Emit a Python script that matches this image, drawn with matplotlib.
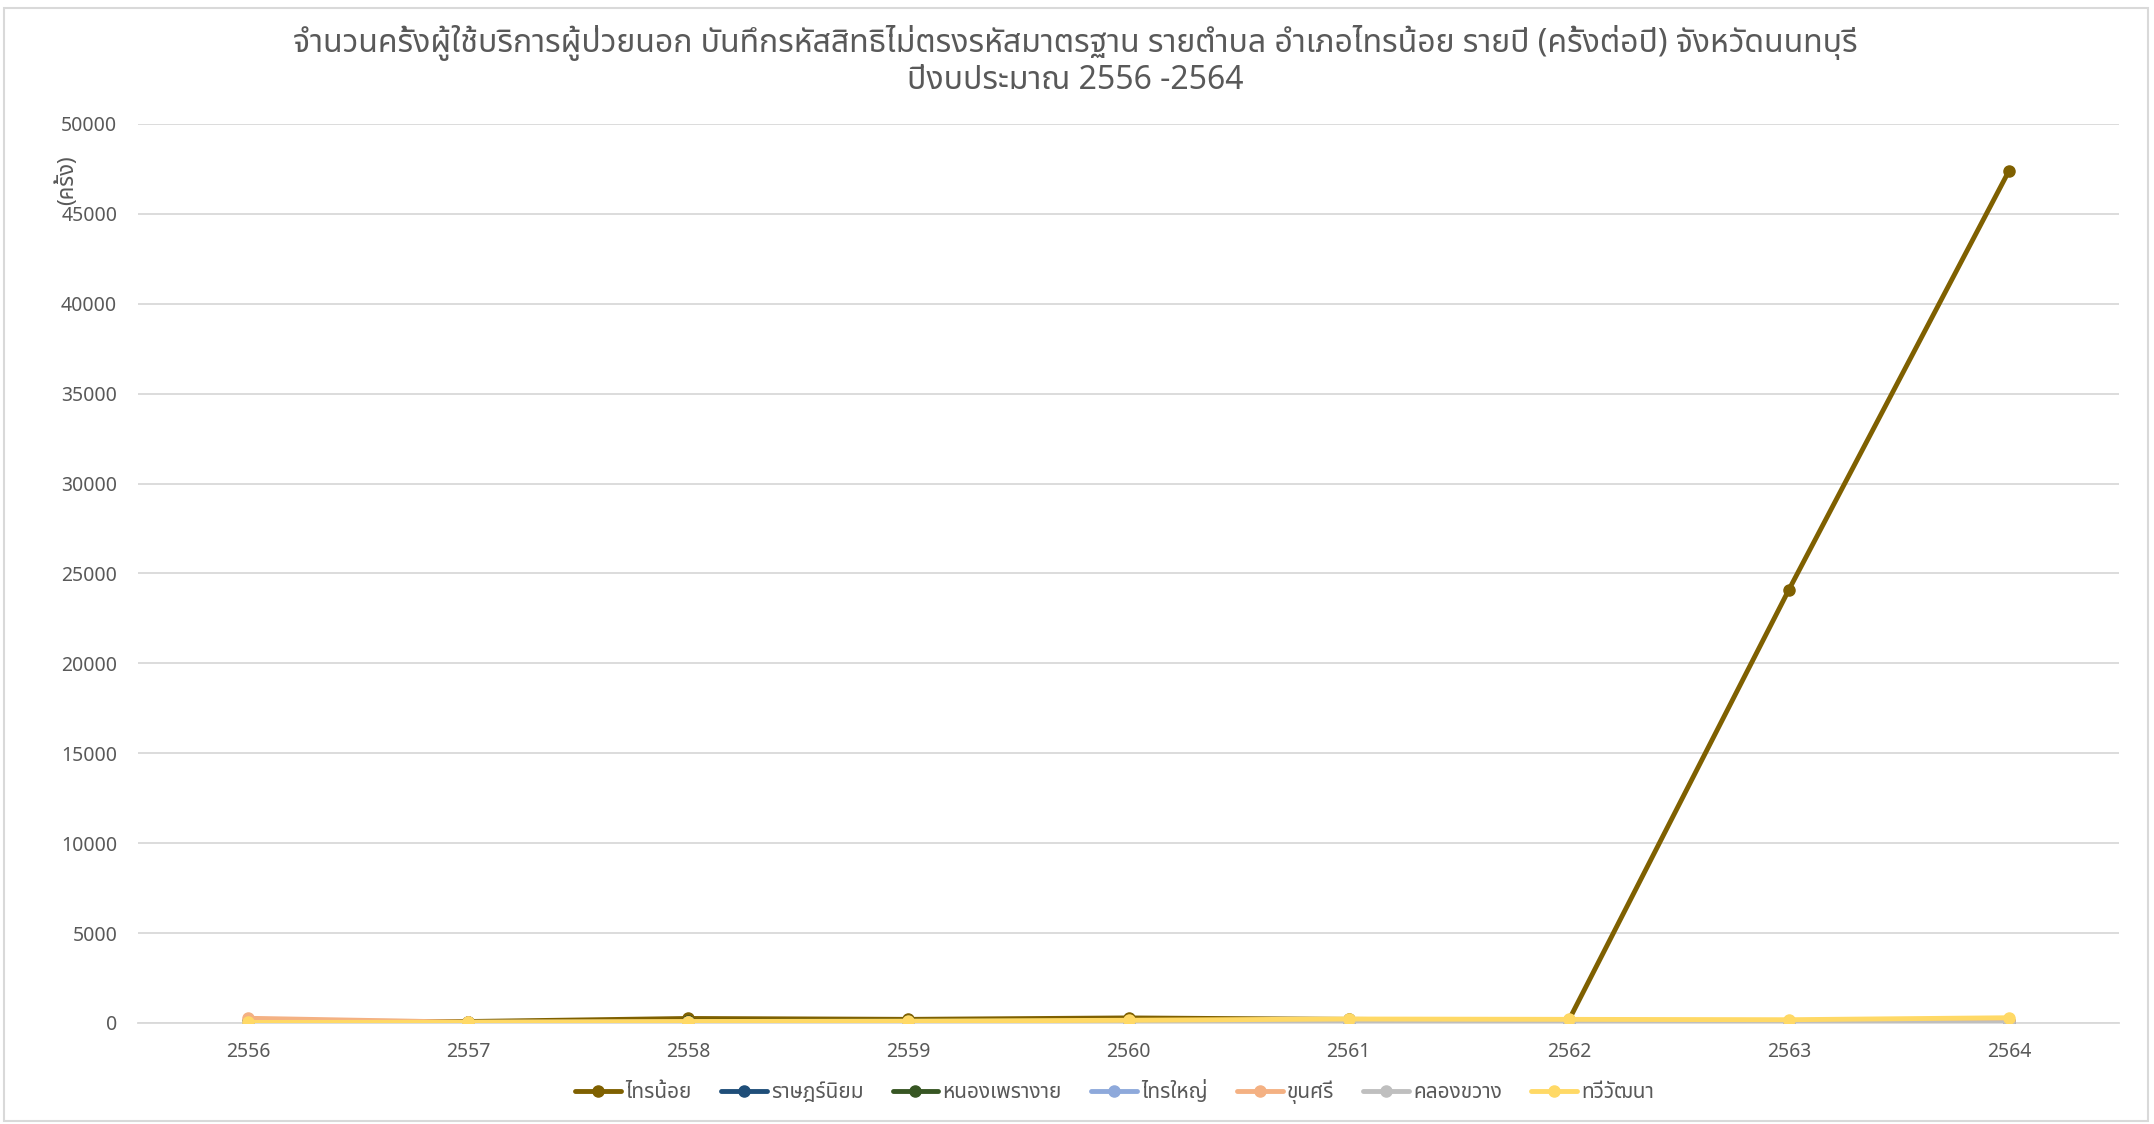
import matplotlib
matplotlib.use("Agg")
import matplotlib.pyplot as plt
from matplotlib.patches import Rectangle

# fonts: latin digits from Noto Sans, thai glyphs fall back to a thai family
FONTS = ['Noto Sans', 'Noto Sans Thai', 'Sarabun', 'Bai Jamjuree', 'DejaVu Sans']
plt.rcParams['font.family'] = FONTS

years = ['2556', '2557', '2558', '2559', '2560', '2561', '2562', '2563', '2564']

sai_noi = [100, 80, 250, 200, 280, 200, 150, 24100, 47400]
rat_niyom = [20, 10, 30, 25, 30, 20, 20, 15, 20]
nong_phrao_ngai = [60, 40, 90, 100, 120, 110, 100, 90, 120]
sai_yai = [40, 20, 40, 50, 60, 50, 40, 40, 50]
khun_si = [260, 40, 60, 80, 90, 100, 90, 80, 100]
khlong_khwang = [10, 5, 10, 10, 10, 10, 5, 5, 10]
thawi_watthana = [30, 40, 80, 100, 150, 220, 200, 180, 290]

names = ['ไทรน้อย', 'ราษฎร์นิยม', 'หนองเพรางาย', 'ไทรใหญ่', 'ขุนศรี', 'คลองขวาง', 'ทวีวัฒนา']
series = [sai_noi, rat_niyom, nong_phrao_ngai, sai_yai, khun_si, khlong_khwang, thawi_watthana]
colors = ['#7F6000', '#1F4E79', '#375623', '#8EA9DB', '#F4B183', '#BFBFBF', '#FFD966']

title = ('จำนวนครั้งผู้ใช้บริการผู้ป่วยนอก บันทึกรหัสสิทธิไม่ตรงรหัสมาตรฐาน รายตำบล อำเภอไทรน้อย รายปี (ครั้งต่อปี) จังหวัดนนทบุรี\n'
         'ปีงบประมาณ 2556 -2564')

fig = plt.figure(figsize=(21.54, 11.24), dpi=100)
ax = fig.add_axes([0.0641, 0.0899, 0.9197, 0.7998])

x = range(len(years))
for vals, name, c in zip(series, names, colors):
    ax.plot(x, vals, color=c, lw=3.5, marker='o', markersize=8, label=name,
            solid_capstyle='round', zorder=3)

ax.set_xlim(-0.5, len(years) - 0.5)
ax.set_ylim(0, 50000)
ax.set_yticks(range(0, 50001, 5000))
ax.set_xticks(list(x))
ax.set_xticklabels(years)
ax.tick_params(axis='both', length=0, labelsize=14, colors='#595959')
ax.tick_params(axis='x', pad=14)
ax.tick_params(axis='y', pad=15)
ax.grid(axis='y', color='#D9D9D9', lw=1.3)
ax.set_axisbelow(True)
for s in ['top', 'right', 'left']:
    ax.spines[s].set_visible(False)
ax.spines['bottom'].set_color('#D9D9D9')
ax.spines['bottom'].set_linewidth(1.3)

fig.text(0.031, 0.862, '(ครั้ง)', rotation=90, fontsize=16, color='#595959',
         ha='center', va='top')

fig.text(0.499, 0.978, title, ha='center', va='top', fontsize=23,
         color='#595959', linespacing=1.15)

ax.legend(loc='upper center', bbox_to_anchor=(0.493, -0.043), ncol=7,
          frameon=False, fontsize=15, labelcolor='#595959', handlelength=2.2,
          handletextpad=0.2, columnspacing=1.4)

fig.patches.append(Rectangle((0.002, 0.003), 0.995, 0.99, transform=fig.transFigure,
                             fill=False, edgecolor='#D9D9D9', lw=1.5))

fig.savefig('out.png', dpi=100)
